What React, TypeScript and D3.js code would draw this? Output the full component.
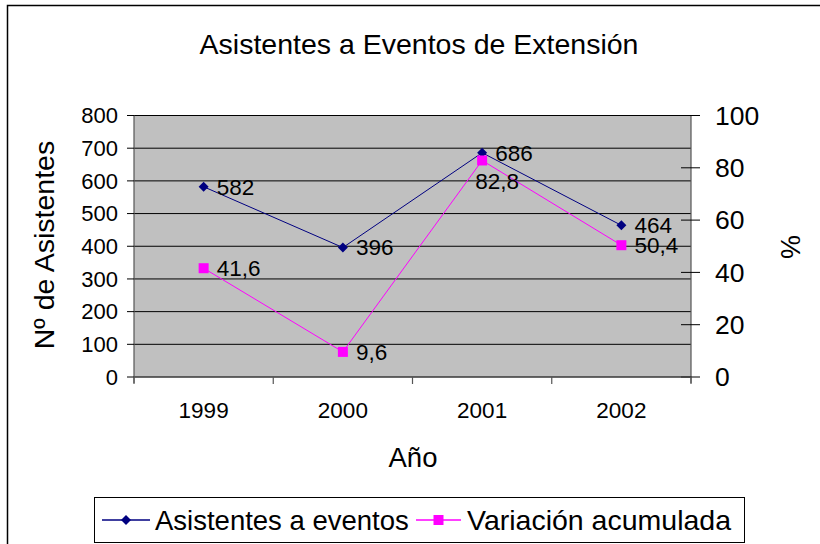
import React from "react";
import * as d3 from "d3";

const years = ["1999", "2000", "2001", "2002"];
const asistentes = [582, 396, 686, 464];
const variacion = [41.6, 9.6, 82.8, 50.4];
const leftTicks = [0, 100, 200, 300, 400, 500, 600, 700, 800];
const rightTicks = [0, 20, 40, 60, 80, 100];

const FONT = "'Liberation Sans', Arial, sans-serif";

export default function App() {
  const W = 820, H = 544;
  const L = 134, R = 691, T = 115.5, B = 377;
  const x = d3.scaleBand().domain(years).range([L, R]);
  const yL = d3.scaleLinear().domain([0, 800]).range([B, T]);
  const yR = d3.scaleLinear().domain([0, 100]).range([B, T]);
  const cx = (d: string) => (x(d) as number) + x.bandwidth() / 2;

  const lineA = d3.line<number>().x((_, i) => cx(years[i])).y((d) => yL(d));
  const lineV = d3.line<number>().x((_, i) => cx(years[i])).y((d) => yR(d));

  const fmt = (v: number) => String(v).replace(".", ",");
  const diamond = (px: number, py: number, s: number) =>
    `M${px},${py - s}L${px + s},${py}L${px},${py + s}L${px - s},${py}Z`;

  const bounds = [...years.map((d) => x(d) as number), R];

  return (
    <svg width={W} height={H} style={{ position: "absolute", left: 0, top: 0 }} fontFamily={FONT}>
      <rect x={0} y={0} width={W} height={H} fill="#fff" />
      <rect x={7.5} y={5.5} width={W + 20} height={H + 20} fill="none" stroke="#000" strokeWidth={1.5} />
      <text x={419} y={54} textAnchor="middle" fontSize={28.5}>Asistentes a Eventos de Extensión</text>

      <rect x={L} y={T} width={R - L} height={B - T} fill="#C0C0C0" />
      {leftTicks.map((t) => (
        <line key={"g" + t} x1={L} x2={R} y1={yL(t)} y2={yL(t)} stroke="#000" strokeWidth={1} />
      ))}
      {/* left axis */}
      <line x1={L} x2={L} y1={T} y2={B + 6} stroke="#555" strokeWidth={1.2} />
      {leftTicks.map((t) => (
        <g key={"l" + t}>
          <line x1={L - 7} x2={L} y1={yL(t)} y2={yL(t)} stroke="#000" />
          <text x={L - 16} y={yL(t)} dy="0.35em" textAnchor="end" fontSize={22}>{t}</text>
        </g>
      ))}
      {/* right axis */}
      <line x1={R} x2={R} y1={T} y2={B + 6} stroke="#555" strokeWidth={1.2} />
      {rightTicks.map((t) => (
        <g key={"r" + t}>
          <line x1={R - 10} x2={R + 9} y1={yR(t)} y2={yR(t)} stroke="#000" />
          <text x={R + 24} y={yR(t)} dy="0.35em" textAnchor="start" fontSize={26.5}>{t}</text>
        </g>
      ))}
      {/* bottom axis */}
      <line x1={L} x2={R} y1={B} y2={B} stroke="#555" strokeWidth={1.2} />
      {bounds.map((b, i) => (
        <line key={"b" + i} x1={b} x2={b} y1={B} y2={B + 7} stroke="#555" strokeWidth={1.2} />
      ))}
      {years.map((d) => (
        <text key={"x" + d} x={cx(d)} y={418} textAnchor="middle" fontSize={22.5}>{d}</text>
      ))}

      <text x={413} y={467} textAnchor="middle" fontSize={27.5}>Año</text>
      <text transform={`translate(54,245) rotate(-90)`} textAnchor="middle" fontSize={28.5}>Nº de Asistentes</text>
      <text transform={`translate(781,247) rotate(90)`} textAnchor="middle" fontSize={27}>%</text>

      {/* series */}
      <path d={lineA(asistentes) as string} fill="none" stroke="#000080" strokeWidth={1} />
      <path d={lineV(variacion) as string} fill="none" stroke="#FF00FF" strokeWidth={1} />
      {asistentes.map((v, i) => (
        <path key={"da" + i} d={diamond(cx(years[i]), yL(v), 5)} fill="#000080" />
      ))}
      {variacion.map((v, i) => (
        <rect key={"sv" + i} x={cx(years[i]) - 5} y={yR(v) - 5} width={10} height={10} fill="#FF00FF" />
      ))}
      {asistentes.map((v, i) => (
        <text key={"ta" + i} x={cx(years[i]) + 13} y={yL(v)} dy="0.35em" fontSize={22.5}>{fmt(v)}</text>
      ))}
      {variacion.map((v, i) => {
        const below = v === d3.max(variacion);
        return (
          <text key={"tv" + i} x={cx(years[i]) + (below ? -7 : 13)} y={yR(v) + (below ? 21 : 0)} dy="0.35em" fontSize={22.5}>{fmt(v)}</text>
        );
      })}

      {/* legend */}
      <rect x={94.5} y={497.5} width={650} height={45} fill="#fff" stroke="#000" strokeWidth={1} />
      <line x1={102} x2={150} y1={520} y2={520} stroke="#000080" strokeWidth={1.5} />
      <path d={diamond(126, 520, 5)} fill="#000080" />
      <text x={155} y={520} dy="0.35em" fontSize={27.5}>Asistentes a eventos</text>
      <line x1={416} x2={461} y1={520} y2={520} stroke="#FF00FF" strokeWidth={1.5} />
      <rect x={433.5} y={515} width={10} height={10} fill="#FF00FF" />
      <text x={467} y={520} dy="0.35em" fontSize={28.5}>Variación acumulada</text>
    </svg>
  );
}
